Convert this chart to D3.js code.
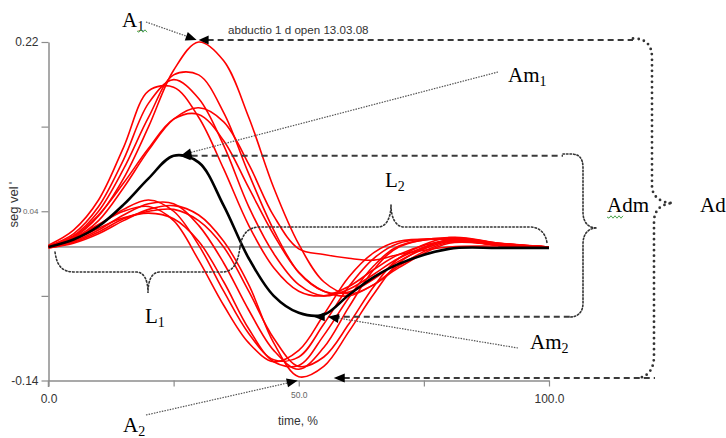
<!DOCTYPE html>
<html>
<head>
<meta charset="utf-8">
<script src="https://cdn.jsdelivr.net/npm/d3@7"></script>
<style>
 body { margin: 0; background: #fff; }
 svg { display: block; }
</style>
</head>
<body>
<svg width="726" height="438"></svg>
<script>
 // time axis sample points (% of movement)
 var timePct = [0, 5, 10, 15, 20, 25, 30, 35, 40, 45, 50, 55, 60, 65, 70, 80, 90, 100];

 // single trials, upper group (large first peak)
 var trialU1 = [0.003, 0.012, 0.035, 0.075, 0.13, 0.19, 0.22, 0.2, 0.14, 0.065, 0.005, -0.035, -0.048, -0.038, -0.018, 0.007, 0.004, 0.002];
 var trialU2 = [0.003, 0.014, 0.04, 0.085, 0.14, 0.185, 0.185, 0.145, 0.08, 0.02, -0.025, -0.045, -0.046, -0.032, -0.013, 0.008, 0.004, 0.002];
 var trialU3 = [0.003, 0.016, 0.045, 0.095, 0.155, 0.18, 0.16, 0.11, 0.045, -0.005, -0.038, -0.05, -0.043, -0.027, -0.01, 0.009, 0.004, 0.002];
 var trialU4 = [0.004, 0.02, 0.052, 0.108, 0.168, 0.172, 0.14, 0.085, 0.025, -0.02, -0.045, -0.05, -0.04, -0.022, -0.006, 0.009, 0.004, 0.002];
 var trialU5 = [0.003, 0.011, 0.03, 0.065, 0.105, 0.138, 0.15, 0.135, 0.09, 0.035, 0.0, -0.006, -0.01, -0.012, -0.006, 0.002, 0.003, 0.002];
 var trialU6 = [0.003, 0.013, 0.036, 0.07, 0.107, 0.138, 0.143, 0.115, 0.065, 0.015, -0.025, -0.045, -0.05, -0.038, -0.02, 0.006, 0.004, 0.002];

 // single trials, lower group (small first peak, deep second)
 var trialLa = [0.002, 0.01, 0.025, 0.042, 0.052, 0.04, 0.004, -0.045, -0.09, -0.118, -0.115, -0.08, -0.04, -0.01, 0.006, 0.011, 0.005, 0.002];
 var trialLb = [0.002, 0.008, 0.02, 0.036, 0.048, 0.048, 0.025, -0.015, -0.065, -0.108, -0.128, -0.105, -0.062, -0.022, 0.002, 0.012, 0.006, 0.002];
 var trialLc = [0.003, 0.011, 0.026, 0.04, 0.045, 0.03, -0.012, -0.06, -0.1, -0.12, -0.108, -0.07, -0.03, -0.004, 0.008, 0.01, 0.005, 0.002];
 var trialLd = [0.001, 0.007, 0.018, 0.032, 0.04, 0.042, 0.03, 0.002, -0.045, -0.095, -0.125, -0.115, -0.08, -0.04, -0.01, 0.012, 0.006, 0.002];
 var trialLe = [0.002, 0.009, 0.022, 0.033, 0.038, 0.032, 0.008, -0.035, -0.085, -0.12, -0.124, -0.092, -0.052, -0.018, 0.003, 0.011, 0.005, 0.002];
 var trialLf = [0.001, 0.006, 0.016, 0.03, 0.042, 0.046, 0.036, 0.008, -0.038, -0.1, -0.136, -0.125, -0.088, -0.048, -0.015, 0.01, 0.006, 0.002];

 // averaged curve
 var meanCurve = [0.002, 0.01, 0.024, 0.047, 0.075, 0.099, 0.092, 0.046, -0.01, -0.05, -0.068, -0.07, -0.049, -0.03, -0.016, 0.0, 0.001, 0.001];

 var redTrials = [trialU1, trialU2, trialU3, trialU4, trialU5, trialU6,
                  trialLa, trialLb, trialLc, trialLd, trialLe, trialLf];

 var zeroLine = 0.002;
 var yTicks = [-0.14, -0.05, 0.04, 0.13, 0.22];
 var yTickLabels = ["-0.14", "", "0.04", "", "0.22"];
 var xTicks = [0, 25, 50, 75, 100];
 var xTickLabels = ["0.0", "", "50.0", "", "100.0"];

 var svg = d3.select("svg");
 var sans = "'Liberation Sans', Arial, sans-serif";
 var serif = "'Liberation Serif', 'Times New Roman', serif";

 var x = d3.scaleLinear().domain([0, 100]).range([48.5, 549]);
 var y = d3.scaleLinear().domain([-0.14, 0.22]).range([380.5, 42]);

 // axes
 var gy = svg.append("g").attr("transform", "translate(48.5,0)")
     .call(d3.axisLeft(y).tickValues(yTicks).tickSize(7).tickSizeOuter(0)
           .tickFormat(function(d, i) { return yTickLabels[i]; }));
 var gx = svg.append("g").attr("transform", "translate(0,380.5)")
     .call(d3.axisBottom(x).tickValues(xTicks).tickSize(6).tickSizeOuter(0)
           .tickFormat(function(d, i) { return xTickLabels[i]; }));
 [gy, gx].forEach(function(g) {
     g.select(".domain").attr("stroke", "#8c8c8c").attr("stroke-width", 1.5);
     g.selectAll(".tick line").attr("stroke", "#8c8c8c").attr("stroke-width", 1.2);
     g.selectAll(".tick text").attr("font-family", sans).attr("fill", "#333");
 });
 gy.selectAll(".tick text")
   .attr("font-size", function(d, i) { return yTickLabels[i] == "0.04" ? 8 : 12; })
   .attr("fill", function(d, i) { return yTickLabels[i] == "0.04" ? "#666" : "#333"; });
 gx.selectAll(".tick text")
   .attr("font-size", function(d, i) { return xTickLabels[i] == "50.0" ? 8.5 : 12; })
   .attr("fill", function(d, i) { return xTickLabels[i] == "50.0" ? "#666" : "#333"; })
   .attr("y", function(d, i) { return xTickLabels[i] == "50.0" ? 11 : 14; });
 gy.append("path").attr("d", "M0,380.5V387").attr("stroke", "#8c8c8c").attr("stroke-width", 1.5);

 svg.append("text").attr("transform", "translate(18,207) rotate(-90)")
    .attr("text-anchor", "middle").attr("font-family", sans).attr("font-size", 13)
    .attr("fill", "#333").text("seg vel");
 svg.append("text").attr("transform", "translate(18,183) rotate(-90)")
    .attr("text-anchor", "middle").attr("font-family", sans).attr("font-size", 13)
    .attr("fill", "#333").text("'");
 svg.append("text").attr("x", 298).attr("y", 425).attr("text-anchor", "middle")
    .attr("font-family", sans).attr("font-size", 12).attr("fill", "#333").text("time, %");
 svg.append("text").attr("x", 228).attr("y", 34)
    .attr("font-family", sans).attr("font-size", 11.6).attr("fill", "#333")
    .text("abductio 1 d open 13.03.08");

 // zero line
 svg.append("line").attr("x1", x(0)).attr("x2", x(100))
    .attr("y1", y(zeroLine)).attr("y2", y(zeroLine))
    .attr("stroke", "#555").attr("stroke-width", 1);

 // curves
 var line = d3.line()
     .x(function(d, i) { return x(timePct[i]); })
     .y(function(d) { return y(d); })
     .curve(d3.curveCatmullRom.alpha(0.5));

 svg.append("g").selectAll("path").data(redTrials).enter().append("path")
    .attr("d", line).attr("fill", "none")
    .attr("stroke", "#ff0000").attr("stroke-width", 1.6);
 svg.append("path").datum(meanCurve).attr("d", line).attr("fill", "none")
    .attr("stroke", "#000").attr("stroke-width", 2.6);

 // ---- annotations ----
 var ann = svg.append("g");

 function arrowHead(tx, ty, fromX, fromY, len, half) {
     var a = Math.atan2(ty - fromY, tx - fromX);
     var bx = tx - len * Math.cos(a), by = ty - len * Math.sin(a);
     var px = -Math.sin(a) * half, py = Math.cos(a) * half;
     ann.append("path")
        .attr("d", "M" + tx + "," + ty + "L" + (bx + px) + "," + (by + py) +
                   "L" + (bx - px) + "," + (by - py) + "Z")
        .attr("fill", "#000");
 }
 function dashed(x1, x2, yy) {
     ann.append("line").attr("x1", x1).attr("x2", x2).attr("y1", yy).attr("y2", yy)
        .attr("stroke", "#3a3a3a").attr("stroke-width", 2).attr("stroke-dasharray", "6,4");
 }
 function leader(x1, y1, x2, y2) {
     ann.append("line").attr("x1", x1).attr("y1", y1).attr("x2", x2).attr("y2", y2)
        .attr("stroke", "#555").attr("stroke-width", 1.2).attr("stroke-dasharray", "1.5,1.2");
 }
 function dotted(d, w, dash) {
     ann.append("path").attr("d", d).attr("fill", "none")
        .attr("stroke", "#333").attr("stroke-width", w)
        .attr("stroke-dasharray", dash).attr("stroke-linecap", "round");
 }
 function label(tx, ty, main, sub) {
     var t = ann.append("text").attr("x", tx).attr("y", ty)
        .attr("font-family", serif).attr("font-size", 21).attr("fill", "#000");
     t.append("tspan").text(main);
     if (sub) t.append("tspan").attr("font-size", 14).attr("dy", 3.5).text(sub);
 }
 function squiggle(x0, x1, yy) {
     var d = "M" + x0 + "," + yy;
     for (var k = x0, s = 1; k < x1; k += 2, s = -s) d += "L" + (k + 2) + "," + (yy + s * 1.2);
     ann.append("path").attr("d", d).attr("fill", "none").attr("stroke", "#3a9a3a").attr("stroke-width", 0.9);
 }

 // key points from data
 var peakV = d3.max(redTrials, function(t) { return d3.max(t); });
 var peakT = timePct[d3.maxIndex(trialU1)];
 var meanMaxI = d3.maxIndex(meanCurve), meanMinI = d3.minIndex(meanCurve);

 var a1 = [x(peakT) - 1, y(peakV) - 2];
 var am1 = [x(timePct[meanMaxI]) + 6, y(meanCurve[meanMaxI])];
 var am2 = [x(timePct[meanMinI]) - 10, y(meanCurve[meanMinI]) + 2];
 var a2 = [x(50) - 1, y(-0.14)];

 // A1
 dashed(a1[0] + 10, 633, a1[1]);
 arrowHead(a1[0] + 1, a1[1], a1[0] + 14, a1[1], 10, 4.5);
 leader(146, 22, a1[0] - 6, a1[1] - 2);
 arrowHead(a1[0] - 1, a1[1], 146, 22, 11, 4.5);
 label(122, 27, "A", "1");
 squiggle(137, 147, 31);

 // Am1
 dashed(am1[0] + 12, 563, am1[1]);
 arrowHead(am1[0], am1[1], am1[0] + 14, am1[1], 11, 4.5);
 leader(498, 72, am1[0] + 6, am1[1] - 2);
 arrowHead(am1[0] + 1, am1[1], 498, 72, 11, 4.5);
 label(508, 82, "Am", "1");

 // Am2
 dashed(am2[0] + 20, 570, am2[1]);
 arrowHead(am2[0], am2[1], am2[0] + 14, am2[1], 11, 4.5);
 leader(518, 348, am2[0] + 22, am2[1] + 1);
 arrowHead(am2[0] + 14, am2[1], 518, 348, 11, 4.5);
 label(530, 349, "Am", "2");

 // A2
 dashed(a2[0] + 46, 655, a2[1] - 2.5);
 arrowHead(a2[0] + 36, a2[1] - 2.5, a2[0] + 50, a2[1] - 2.5, 11, 4.5);
 leader(146, 415, a2[0] - 8, a2[1] + 2);
 arrowHead(a2[0], a2[1], 146, 415, 11, 4.5);
 label(123, 432, "A", "2");

 // L1 / L2 braces
 dotted("M55,252 C57,266 62,272 75,272 L136,272 C144,272 148,280 148,293 " +
        "C148,280 152,272 160,272 L222,272 C234,272 238,262 240,247", 1.6, "1.5,2.2");
 dotted("M240,247 C242,234 248,227 260,227 L378,227 C386,227 391,218 391,205 " +
        "C391,218 396,227 404,227 L530,227 C540,227 546,234 547,243", 1.6, "1.5,2.2");
 label(145, 323, "L", "1");
 label(385, 187, "L", "2");

 // Adm brace
 dotted("M563,154 L571,154 C579,154 583,158 583,168 L583,212 C583,222 588,228 597,228 " +
        "C588,228 583,234 583,244 L583,303 C583,312 578,317 570,317", 1.6, "1.5,2");
 label(607, 212, "Adm");
 squiggle(607, 622, 217);

 // Ad brace
 dotted("M633,38.5 C646,38.5 652,45 652,58 L652,186 C652,196 660,203 673,203 " +
        "C661,204 654,210 654,222 L654,356 C654,368 649,376 639,378", 2.8, "0,5.5");
 label(700, 212, "Ad");
</script>
</body>
</html>
